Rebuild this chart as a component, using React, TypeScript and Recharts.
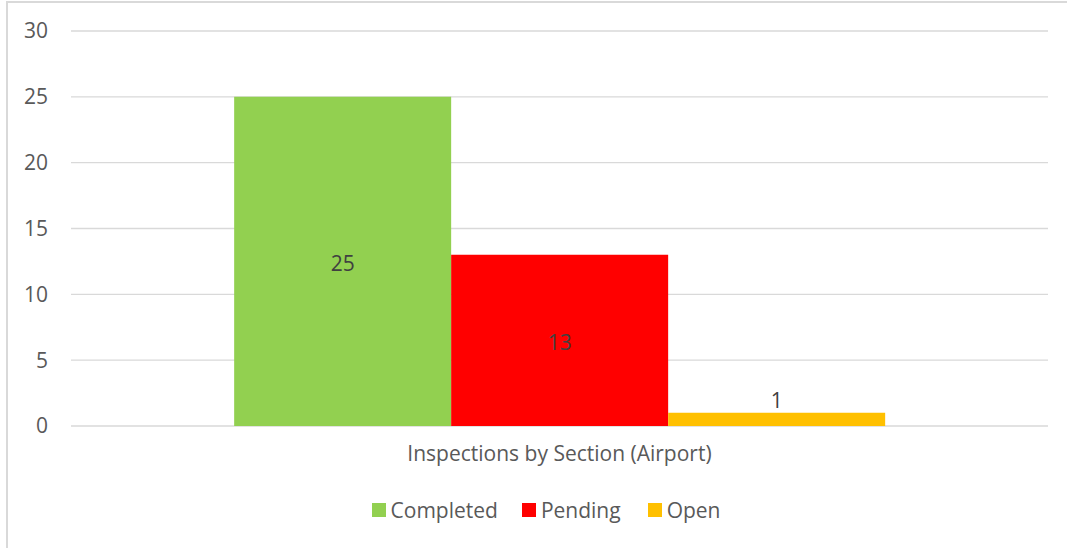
import { BarChart, Bar, XAxis, YAxis, CartesianGrid, Legend, LabelList } from 'recharts';

const categories = ['Inspections by Section (Airport)'];
const completed = [25];
const pending = [13];
const open = [1];
const yTicks = [0, 5, 10, 15, 20, 25, 30];

const seriesInfo = [
  { key: 'completed', name: 'Completed', color: '#92D050', gap: 24 },
  { key: 'pending', name: 'Pending', color: '#FF0000', gap: 27 },
  { key: 'open', name: 'Open', color: '#FFC000', gap: 0 },
];

const data = categories.map((name, i) => ({
  name,
  completed: completed[i],
  pending: pending[i],
  open: open[i],
}));

const FONT = '"Open Sans", sans-serif';
const TEXT = '#595959';

function LegendBox() {
  // legend is centred on the full frame, which runs past the right edge
  return (
    <div
      style={{
        display: 'flex',
        justifyContent: 'center',
        alignItems: 'center',
        height: 36,
        paddingLeft: 44,
        fontFamily: FONT,
        fontSize: 21,
        color: TEXT,
      }}
    >
      {seriesInfo.map((s) => (
        <div key={s.key} style={{ display: 'flex', alignItems: 'center', marginRight: s.gap }}>
          <span style={{ width: 14, height: 14, background: s.color, marginRight: 5, display: 'inline-block' }} />
          <span>{s.name}</span>
        </div>
      ))}
    </div>
  );
}

export default function App() {
  return (
    <div
      style={{
        position: 'fixed',
        left: 0,
        top: 0,
        width: 1067,
        height: 548,
        background: '#fff',
        overflow: 'hidden',
      }}
    >
      {/* frame of the chart area, cut off at the right and bottom */}
      <div
        style={{
          position: 'absolute',
          left: 6,
          top: 1,
          width: 1100,
          height: 600,
          border: '2px solid #d9d9d9',
        }}
      />
      <div style={{ position: 'absolute', left: 0, top: 0 }}>
        <BarChart
          width={1067}
          height={548}
          data={data}
          margin={{ top: 31, right: 19, left: 0, bottom: 20 }}
          barCategoryGap="16.7%"
          barGap={0}
        >
          <CartesianGrid vertical={false} stroke="#d9d9d9" strokeWidth={1.3} />
          <XAxis
            dataKey="name"
            axisLine={false}
            tickLine={false}
            tickSize={0}
            tickMargin={20}
            height={66}
            tick={{ fill: TEXT, fontSize: 21, fontFamily: FONT }}
          />
          <YAxis
            domain={[0, 30]}
            ticks={yTicks}
            axisLine={false}
            tickLine={false}
            tickSize={0}
            tickMargin={23}
            width={71}
            tick={{ fill: TEXT, fontSize: 21, fontFamily: FONT }}
          />
          <Legend verticalAlign="bottom" content={() => <LegendBox />} wrapperStyle={{ height: 36 }} />
          {seriesInfo.map((s) => (
            <Bar key={s.key} dataKey={s.key} name={s.name} fill={s.color} isAnimationActive={false}>
              <LabelList
                dataKey={s.key}
                position={s.key === 'open' ? 'top' : 'center'}
                offset={5}
                dy={s.key === 'open' ? 0 : 2}
                fill="#404040"
                fontSize={21}
                fontFamily={FONT}
              />
            </Bar>
          ))}
        </BarChart>
      </div>
    </div>
  );
}
